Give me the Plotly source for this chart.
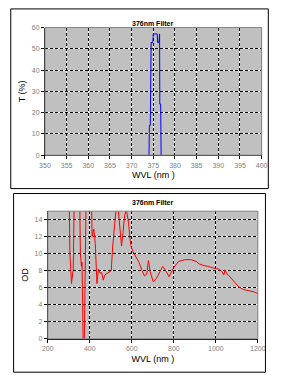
import plotly.graph_objects as go

# Top chart: transmission of the 376 nm filter
t_wl = [374.0, 374.1, 374.3, 374.4, 374.5, 374.9, 375.0, 375.9, 376.0, 376.3, 376.35, 376.45, 376.5, 376.7, 376.8]
t_val = [0, 14, 14, 28, 53, 53, 57, 57, 53, 53, 57, 57, 24, 24, 0]

# Bottom chart: optical density
od_wl = [300, 305, 313, 321, 328, 340, 350, 355, 360, 363, 368, 371, 374, 378, 384, 395,
         405, 411, 419, 426, 434, 441, 449, 456, 464, 471, 487, 502, 509, 520, 526, 533,
         541, 551, 558, 566, 574, 580, 585, 590, 596, 604, 619, 634, 649, 660, 671, 679,
         687, 702, 717, 732, 747, 762, 777, 800, 823, 853, 883, 906, 921, 944, 967, 989,
         1011, 1026, 1038, 1044, 1053, 1063, 1086, 1109, 1131, 1161, 1184, 1200]
od_val = [20, 10.1, 6.5, 8.2, 20, 25, 20, 10.1, 8.5, 9, 0, -3, 0, 10, 20, 25,
          20, 12, 12.9, 11.2, 6.5, 8.2, 7.7, 7.8, 6.9, 7.5, 7.8, 8.0, 10.9, 13.9, 15.5, 15.8,
          13.5, 10.9, 12.5, 14.5, 15.2, 14.5, 13.5, 12, 10.9, 10.3, 9.7, 9.0, 8.0, 7.4, 7.6, 9.2,
          7.9, 6.7, 7.1, 7.9, 8.5, 8.0, 7.3, 8.4, 9.1, 9.3, 9.3, 9.1, 8.8, 8.6, 8.5, 8.3,
          8.2, 8.0, 7.5, 8.1, 7.6, 7.4, 6.7, 6.1, 5.8, 5.6, 5.5, 5.3]

t_xrange, t_yrange = [350, 400], [0, 60]
od_xrange, od_yrange = [200, 1200], [0, 15]
od_yticks = [0, 2, 4, 6, 8, 10, 12, 14]

W, H = 282, 386
FONT = "Liberation Sans, Arial, sans-serif"

def px(x):
    return x / W

def py(y):
    return 1 - y / H

fig = go.Figure()
fig.add_trace(go.Scatter(x=t_wl, y=t_val, mode="lines", line=dict(color="#0000ff", width=1),
                         xaxis="x", yaxis="y", showlegend=False))
fig.add_trace(go.Scatter(x=od_wl, y=od_val, mode="lines", line=dict(color="#ff0000", width=1),
                         xaxis="x2", yaxis="y2", showlegend=False))
# empty traces so the overlay (dashed grid) axes get drawn
fig.add_trace(go.Scatter(x=[], y=[], xaxis="x3", yaxis="y3", showlegend=False))
fig.add_trace(go.Scatter(x=[], y=[], xaxis="x4", yaxis="y4", showlegend=False))

base = dict(
    showgrid=True, gridcolor="#ffffff", gridwidth=1,
    showline=True, linecolor="#000000", linewidth=1,
    ticks="outside", ticklen=3, tickcolor="#000000",
    tickfont=dict(family=FONT, size=7, color="#808080"),
    zeroline=False, fixedrange=True,
)
over = dict(
    showgrid=True, gridcolor="#000000", griddash="3px,2px", gridwidth=1,
    showline=False, ticks="", showticklabels=False, zeroline=False, fixedrange=True,
)
ttl = dict(family=FONT, size=9, color="#000")

tx = [px(41), px(269)]
ty = [py(154), py(24)]
bx = [px(44), px(265)]
by = [py(341), py(211)]

fig.update_layout(
    width=W, height=H,
    margin=dict(l=0, r=0, t=0, b=0),
    paper_bgcolor="white", plot_bgcolor="#c0c0c0",
    xaxis=dict(base, domain=tx, range=t_xrange, dtick=5, anchor="y",
               title=dict(text="WVL (nm )", font=ttl, standoff=4)),
    yaxis=dict(base, domain=ty, range=t_yrange, dtick=10, anchor="x",
               title=dict(text="T (%)", font=ttl, standoff=4)),
    xaxis2=dict(base, domain=bx, range=od_xrange, dtick=200, anchor="y2",
                title=dict(text="WVL (nm )", font=ttl, standoff=4)),
    yaxis2=dict(base, domain=by, range=od_yrange, tickvals=od_yticks, anchor="x2",
                title=dict(text="OD", font=ttl, standoff=4)),
    xaxis3=dict(over, domain=tx, range=t_xrange, dtick=5, anchor="y3", overlaying="x"),
    yaxis3=dict(over, domain=ty, range=t_yrange, dtick=10, anchor="x3", overlaying="y"),
    xaxis4=dict(over, domain=bx, range=od_xrange, dtick=200, anchor="y4", overlaying="x2"),
    yaxis4=dict(over, domain=by, range=od_yrange, tickvals=od_yticks, anchor="x4", overlaying="y2"),
    shapes=[
        dict(type="rect", xref="paper", yref="paper", x0=px(5), x1=px(276), y0=py(188), y1=py(5),
             line=dict(color="#000", width=1)),
        dict(type="rect", xref="paper", yref="paper", x0=px(8), x1=px(273), y0=py(375), y1=py(193),
             line=dict(color="#000", width=1)),
        dict(type="rect", xref="x domain", yref="y domain", x0=0, x1=1, y0=0, y1=1,
             line=dict(color="#808080", width=1)),
        dict(type="rect", xref="x2 domain", yref="y2 domain", x0=0, x1=1, y0=0, y1=1,
             line=dict(color="#808080", width=1)),
    ],
    annotations=[
        dict(text="<b>376nm Filter</b>", xref="paper", yref="paper", x=px(155), y=py(14),
             showarrow=False, font=dict(family=FONT, size=7, color="#000")),
        dict(text="<b>376nm Filter</b>", xref="paper", yref="paper", x=px(155), y=py(202),
             showarrow=False, font=dict(family=FONT, size=7, color="#000")),
    ],
)

fig.write_html("out.html")
